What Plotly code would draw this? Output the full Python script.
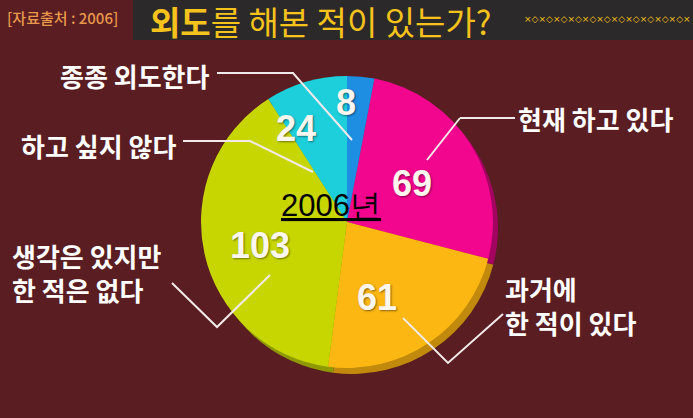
import plotly.graph_objects as go

# ---------------- data ----------------
categories = ["종종 외도한다", "현재 하고 있다", "과거에<br>한 적이 있다",
              "생각은 있지만<br>한 적은 없다", "하고 싶지 않다"]
values = [8, 69, 61, 103, 24]
slice_colors = ["#1e8ee2", "#f1068d", "#fdb713", "#c7d600", "#1dcfdb"]
rim_colors = ["#15639e", "#a3045f", "#c18a0c", "#8e9900", "#14959e"]
center_label = "2006년"
title_main_bold = "외도"
title_main_rest = "를 해본 적이 있는가?"
source_text = "[자료출처 : 2006]"

W, H = 693, 418
BG = "#5a1d22"
BAND = "#2c292a"
YELLOW = "#f5c31c"
KR = "Noto Sans CJK KR"

# pie geometry in pixels
cx, cy, r = 347, 222, 146


def dom(cx_, cy_):
    return dict(x=[(cx_ - r) / W, (cx_ + r) / W],
                y=[(H - cy_ - r) / H, (H - cy_ + r) / H])


fig = go.Figure()

# rim (pseudo 3D) pie behind
fig.add_trace(go.Pie(
    values=values, labels=categories, sort=False, direction="clockwise",
    rotation=0, marker=dict(colors=rim_colors, line=dict(width=0)),
    textinfo="none", hoverinfo="skip", showlegend=False,
    domain=dom(cx + 5, cy + 6)))

# main pie
fig.add_trace(go.Pie(
    values=values, labels=categories, sort=False, direction="clockwise",
    rotation=0, marker=dict(colors=slice_colors, line=dict(width=0)),
    textinfo="none", hoverinfo="label+value", showlegend=False,
    domain=dom(cx, cy)))

# invisible pixel axes for shapes/annotations
fig.update_xaxes(range=[0, W], visible=False, fixedrange=True)
fig.update_yaxes(range=[H, 0], visible=False, fixedrange=True)

shapes = [
    # title band
    dict(type="rect", xref="x", yref="y", x0=133, x1=W, y0=0, y1=40,
         fillcolor=BAND, line=dict(width=0), layer="below"),
]

# leader lines (pixel paths)
leader_paths = [
    "M 217 73 L 293 73 L 352 140",        # 종종 외도한다 -> 8
    "M 460 118 L 515 118",                # 현재 하고 있다
    "M 460 118 L 427 160",
    "M 503 314 L 448 363 L 403 318",      # 과거에 -> 61
    "M 172 283 L 217 327 L 270 275",      # 생각은 -> 103
    "M 183 141 L 250 141 L 313 172",      # 하고 싶지 않다 -> 24
]
for p in leader_paths:
    shapes.append(dict(type="path", xref="x", yref="y", path=p,
                       line=dict(color="#f2eaea", width=2)))

annotations = []

# source text
annotations.append(dict(x=5, y=17, xref="x", yref="y", text=source_text,
                        showarrow=False, xanchor="left", yanchor="middle",
                        font=dict(family=KR, size=15, color="#e8994c",
                                  weight=500)))
# title
annotations.append(dict(x=148, y=21, xref="x", yref="y",
                        text=f"<b>{title_main_bold}</b>{title_main_rest}",
                        showarrow=False, xanchor="left", yanchor="middle",
                        font=dict(family=KR, size=33, color=YELLOW)))
annotations.append(dict(x=W, y=19, xref="x", yref="y",
                        text="×◇" * 11 + "×",
                        showarrow=False, xanchor="right", yanchor="middle",
                        font=dict(family="DejaVu Sans", size=9, color=YELLOW)))

# category labels
label_pos = [
    dict(x=212, y=75, xanchor="right", align="right"),
    dict(x=516, y=118, xanchor="left", align="left"),
    dict(x=503, y=305, xanchor="left", align="left"),
    dict(x=10, y=272, xanchor="left", align="left"),
    dict(x=178, y=145, xanchor="right", align="right"),
]
for cat, pos in zip(categories, label_pos):
    annotations.append(dict(xref="x", yref="y", text=cat, showarrow=False,
                            yanchor="middle",
                            font=dict(family=KR, size=26, color="white",
                                      weight="bold"),
                            **pos))

# value labels
value_pos = [(346, 102), (412, 183), (377, 297), (260, 245), (296, 128)]
for v, (vx, vy) in zip(values, value_pos):
    annotations.append(dict(x=vx, y=vy, xref="x", yref="y", text=f"<b>{v}</b>",
                            showarrow=False, xanchor="center", yanchor="middle",
                            font=dict(family="Liberation Sans", size=36,
                                      color="#fbf6ee",
                                      shadow="1px 1px 2px rgba(0,0,0,0.45)")))

# centre label
annotations.append(dict(x=331, y=205, xref="x", yref="y",
                        text=f"<u>{center_label}</u>", showarrow=False,
                        xanchor="center", yanchor="middle",
                        font=dict(family="Liberation Sans", size=31,
                                  color="black")))

fig.update_layout(
    width=W, height=H,
    margin=dict(l=0, r=0, t=0, b=0),
    paper_bgcolor=BG, plot_bgcolor="rgba(0,0,0,0)",
    shapes=shapes, annotations=annotations,
    showlegend=False,
)

fig.write_html("out.html",
               config={"displayModeBar": False},
               post_script="document.body.style.margin='0';"
                           "document.body.style.background='" + BG + "';")
